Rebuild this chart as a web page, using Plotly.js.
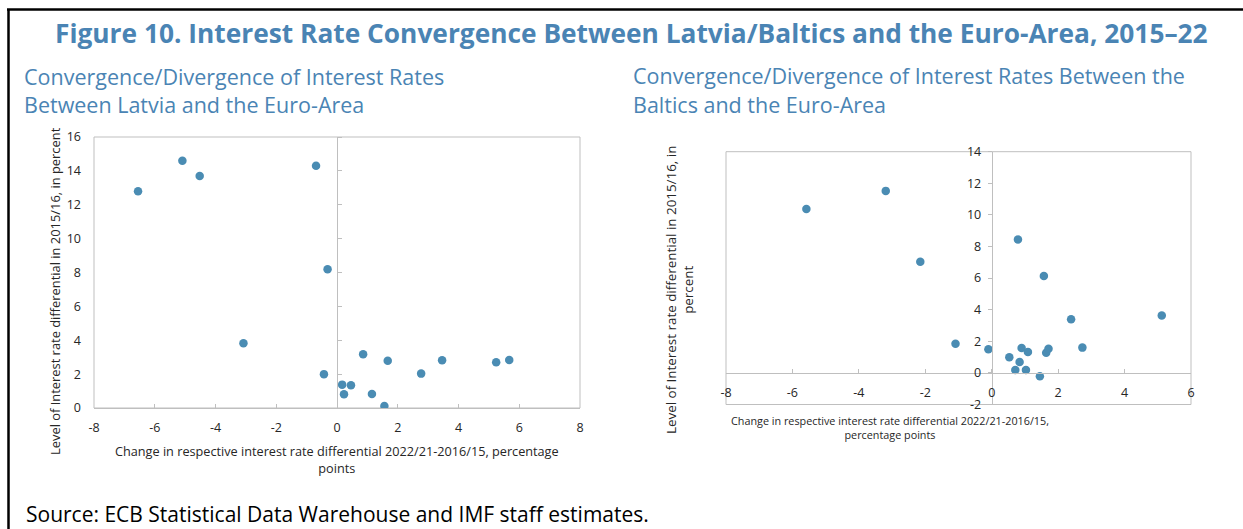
<!DOCTYPE html>
<html>
<head>
<meta charset="utf-8">
<script src="https://cdn.plot.ly/plotly-3.0.1.min.js"></script>
<style>html,body{margin:0;padding:0;background:#fff;}#chart{width:1243px;height:529px;}</style>
</head>
<body>
<div id="chart"></div>
<script>
// Left panel: Latvia vs Euro-Area
var latviaChange = [-6.55, -5.09, -4.52, -3.08, -0.69, -0.43, -0.31, 0.17, 0.23, 0.46, 0.86, 1.15, 1.56, 1.67, 2.77, 3.46, 5.24, 5.67];
var latviaLevel  = [12.8, 14.6, 13.7, 3.82, 14.3, 2.0, 8.19, 1.38, 0.81, 1.34, 3.17, 0.83, 0.12, 2.79, 2.03, 2.82, 2.70, 2.83];

// Right panel: Baltics vs Euro-Area
var balticsChange = [-5.58, -3.19, -2.15, -1.09, -0.10, 0.53, 0.71, 0.79, 0.84, 0.90, 1.03, 1.09, 1.45, 1.57, 1.64, 1.71, 2.39, 2.73, 5.12];
var balticsLevel  = [10.38, 11.52, 7.03, 1.85, 1.49, 0.99, 0.19, 8.44, 0.69, 1.58, 0.19, 1.33, -0.21, 6.13, 1.28, 1.53, 3.39, 1.60, 3.64];

var leftTicksX = [-8, -6, -4, -2, 0, 2, 4, 6, 8];
var leftTicksY = [0, 2, 4, 6, 8, 10, 12, 14, 16];
var rightTicksX = [-8, -6, -4, -2, 0, 2, 4, 6];
var rightTicksY = [-2, 0, 2, 4, 6, 8, 10, 12, 14];

var W = 1243, H = 529;
function fx(px){ return px / W; }
function fy(py){ return 1 - py / H; }

var FONT = 'Open Sans, sans-serif';
var markerColor = '#4A8CB3';
var axisColor = '#BFBFBF';
var textColor = '#262626';
var tickFont = {family: FONT, size: 12.5, color: textColor};
var blue = '#4A84B4';

var traces = [
  {x: latviaChange, y: latviaLevel, type: 'scatter', mode: 'markers', xaxis: 'x', yaxis: 'y',
   marker: {color: markerColor, size: 8.5}, hoverinfo: 'x+y'},
  {x: balticsChange, y: balticsLevel, type: 'scatter', mode: 'markers', xaxis: 'x2', yaxis: 'y2',
   marker: {color: markerColor, size: 8.5}, hoverinfo: 'x+y'},
  // empty helper trace so the vertical axis at x = 0 of the left panel is drawn
  {x: [], y: [], type: 'scatter', mode: 'markers', xaxis: 'x', yaxis: 'y3', hoverinfo: 'skip', showlegend: false}
];

var layout = {
  width: W, height: H,
  margin: {l: 0, r: 0, t: 0, b: 0},
  paper_bgcolor: '#ffffff', plot_bgcolor: 'rgba(0,0,0,0)',
  showlegend: false,
  font: tickFont,
  xaxis: {domain: [fx(94), fx(580)], range: [-8, 8], tickvals: leftTicksX, ticktext: leftTicksX.map(String),
          anchor: 'y', showline: true, linecolor: axisColor, ticks: 'inside', ticklen: 4, tickcolor: axisColor,
          showgrid: false, zeroline: false, tickfont: tickFont, ticklabelstandoff: 8, fixedrange: true},
  yaxis: {domain: [fy(408), fy(137)], range: [0, 16], tickvals: leftTicksY, ticktext: leftTicksY.map(String),
          anchor: 'x', showline: false, ticks: '', showgrid: false, zeroline: false, tickfont: tickFont,
          ticklabelstandoff: 12, fixedrange: true},
  yaxis3: {overlaying: 'y', anchor: 'free', position: fx(337), side: 'right', range: [0, 16],
           tickvals: leftTicksY, showticklabels: false, showline: true, linecolor: axisColor,
           ticks: 'outside', ticklen: 4, tickcolor: axisColor, showgrid: false, zeroline: false, fixedrange: true},
  xaxis2: {domain: [fx(726), fx(1191)], range: [-8, 6], tickvals: rightTicksX, ticktext: rightTicksX.map(String),
           anchor: 'free', position: fy(373.3), showline: true, linecolor: axisColor, ticks: 'inside', ticklen: 4,
           tickcolor: axisColor, showgrid: false, zeroline: false, tickfont: tickFont, ticklabelstandoff: 8, fixedrange: true},
  yaxis2: {domain: [fy(404.5), fy(151.7)], range: [-2, 14], tickvals: rightTicksY, ticktext: rightTicksY.map(String),
           anchor: 'free', position: fx(991.7), showline: true, linecolor: axisColor, ticks: 'outside', ticklen: 4,
           tickcolor: axisColor, showgrid: false, zeroline: false, tickfont: tickFont, ticklabelstandoff: 4, fixedrange: true},
  shapes: [
    {type: 'rect', xref: 'x domain', yref: 'y domain', x0: 0, x1: 1, y0: 0, y1: 1, line: {color: axisColor, width: 1}, layer: 'below'},
    {type: 'rect', xref: 'x2 domain', yref: 'y2 domain', x0: 0, x1: 1, y0: 0, y1: 1, line: {color: axisColor, width: 1}, layer: 'below'},
    {type: 'line', xref: 'paper', yref: 'paper', x0: fx(7), x1: 1, y0: fy(9.5), y1: fy(9.5), line: {color: '#000', width: 2.5}},
    {type: 'line', xref: 'paper', yref: 'paper', x0: fx(8.5), x1: fx(8.5), y0: 0, y1: fy(9.5), line: {color: '#000', width: 2.5}}
  ],
  annotations: [
    {text: '<b>Figure 10. Interest Rate Convergence Between Latvia/Baltics and the Euro-Area, 2015–22</b>',
     xref: 'paper', yref: 'paper', x: fx(631), y: fy(33), xanchor: 'center', yanchor: 'middle', showarrow: false,
     font: {family: FONT, size: 26.3, color: blue}},
    {text: 'Convergence/Divergence of Interest Rates', xref: 'paper', yref: 'paper', x: fx(22), y: fy(76),
     xanchor: 'left', yanchor: 'middle', showarrow: false, font: {family: FONT, size: 21.5, color: blue}},
    {text: 'Between Latvia and the Euro-Area', xref: 'paper', yref: 'paper', x: fx(22), y: fy(104),
     xanchor: 'left', yanchor: 'middle', showarrow: false, font: {family: FONT, size: 21.5, color: blue}},
    {text: 'Convergence/Divergence of Interest Rates Between the', xref: 'paper', yref: 'paper', x: fx(631), y: fy(75),
     xanchor: 'left', yanchor: 'middle', showarrow: false, font: {family: FONT, size: 21.5, color: blue}},
    {text: 'Baltics and the Euro-Area', xref: 'paper', yref: 'paper', x: fx(631), y: fy(104),
     xanchor: 'left', yanchor: 'middle', showarrow: false, font: {family: FONT, size: 21.5, color: blue}},
    {text: 'Change in respective interest rate differential 2022/21-2016/15, percentage<br>points',
     xref: 'paper', yref: 'paper', x: fx(337), y: fy(440), xanchor: 'center', yanchor: 'top', showarrow: false,
     align: 'center', font: {family: FONT, size: 12.7, color: textColor}},
    {text: 'Level of Interest rate differential in 2015/16, in percent', textangle: -90,
     xref: 'paper', yref: 'paper', x: fx(55), y: fy(291), xanchor: 'center', yanchor: 'middle', showarrow: false,
     font: {family: FONT, size: 12.9, color: textColor}},
    {text: 'Change in respective interest rate differential 2022/21-2016/15,<br>percentage points',
     xref: 'paper', yref: 'paper', x: fx(890), y: fy(411), xanchor: 'center', yanchor: 'top', showarrow: false,
     align: 'center', font: {family: FONT, size: 10.8, color: textColor}},
    {text: 'Level of Interest rate differential in 2015/16, in<br>percent', textangle: -90,
     xref: 'paper', yref: 'paper', x: fx(679), y: fy(290), xanchor: 'center', yanchor: 'middle', showarrow: false,
     align: 'center', font: {family: FONT, size: 13.4, color: textColor}},
    {text: 'Source: ECB Statistical Data Warehouse and IMF staff estimates.', xref: 'paper', yref: 'paper',
     x: fx(24), y: fy(514), xanchor: 'left', yanchor: 'middle', showarrow: false,
     font: {family: FONT, size: 21, color: '#000'}}
  ]
};

Plotly.newPlot('chart', traces, layout, {displayModeBar: false, staticPlot: true});
</script>
</body>
</html>
